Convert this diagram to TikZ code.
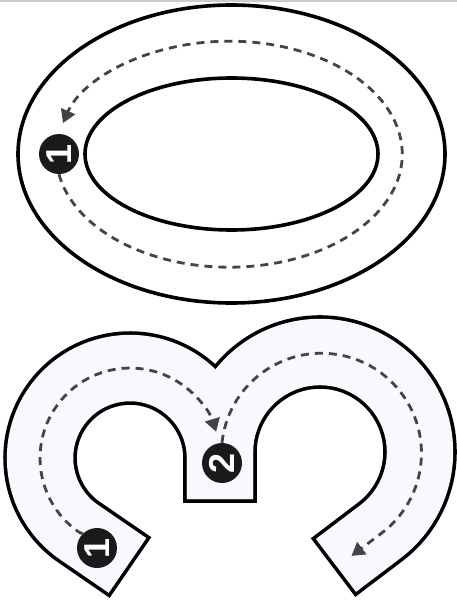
\documentclass[tikz,border=0pt]{standalone}
\usepackage{fontspec}
\setsansfont{Liberation Sans}
\usetikzlibrary{arrows.meta}
\definecolor{lane}{HTML}{F8F8FF}
\definecolor{flowgray}{HTML}{444444}
\definecolor{badgeblack}{HTML}{1A1A1A}
\newcommand{\leftlane}{(129,566.5) -- (79.2,532.3) arc[start angle=124.4, end angle=360, radius=90] -- (220,501)}
\newcommand{\rightlane}{(220,501) -- (220,452) arc[start angle=180, end angle=412.9, radius=100] -- (334.5,566.5)}

\begin{document}
\begin{tikzpicture}[
    x=1pt, y=-1pt,
    outline/.style={draw=black, line width=3.6pt, fill=white},
    laneedge/.style={draw=black, line width=73.6pt, line cap=butt, shorten <=-1.8pt, shorten >=-1.8pt},
    lanefill/.style={draw=lane, line width=66.4pt, line cap=butt, shorten <=1.8pt, shorten >=1.8pt},
    flow/.style={draw=flowgray, line width=2.8pt, dash pattern=on 8pt off 6pt, -{Triangle[length=13pt, width=15pt]}},
    badge/.style={circle, fill=badgeblack, minimum size=40pt, inner sep=0pt, text=white, font=\sffamily\bfseries\fontsize{36}{36}\selectfont}
]
\useasboundingbox (0,0) rectangle (457,605);
\draw[gray!40, line width=2pt] (0,1) -- (457,1);

\draw[outline] (231.5,154) ellipse[x radius=213.5, y radius=149];
\draw[outline] (231.5,154) ellipse[x radius=146.5, y radius=76];
\node[badge] (ring1) at (59,154) {\rotatebox{90}{1}};
\draw[flow] (ring1.south) arc[start angle=169.8, end angle=-164, x radius=173, y radius=113];

\draw[laneedge] \leftlane;
\draw[laneedge] \rightlane;
\draw[lanefill] \leftlane;
\draw[lanefill] \rightlane;

\node[badge] (lane1) at (97,548) {\rotatebox{90}{1}};
\node[badge] (lane2) at (222,463) {\rotatebox{90}{2}};
\draw[flow] (lane1.135) -- (79.2,532.3) arc[start angle=124.4, end angle=343, radius=90];
\draw[flow] (lane2.north) arc[start angle=186, end angle=412.9, radius=100] -- ++(-30.3,22.9);
\end{tikzpicture}
\end{document}
